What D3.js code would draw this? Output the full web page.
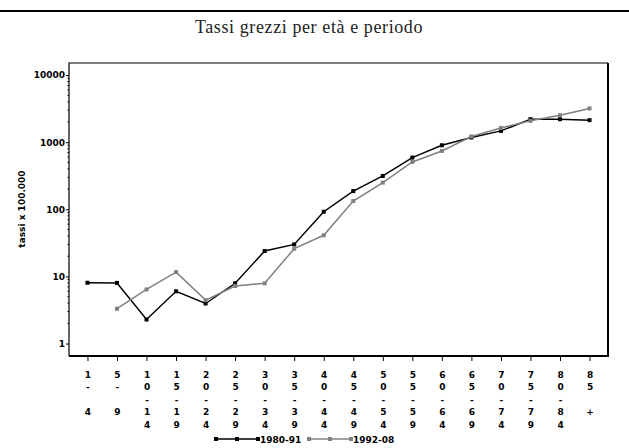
<!DOCTYPE html>
<html>
<head>
<meta charset="utf-8">
<script src="https://cdn.jsdelivr.net/npm/d3@7"></script>
<style>
  body { margin: 0; background: #fff; }
</style>
</head>
<body>
<div id="chart"></div>
<script>
// Data
var ageGroups = ["1- 4", "5- 9", "10-14", "15-19", "20-24", "25-29", "30-34", "35-39", "40-44",
                 "45-49", "50-54", "55-59", "60-64", "65-69", "70-74", "75-79", "80-84", "85 +"];
var rates8091 = [8.05, 8.0, 2.28, 6.0, 3.95, 7.9, 23.9, 30, 92, 187, 314, 590, 900, 1175, 1475, 2200, 2200, 2130];
var rates9208 = [null, 3.3, 6.4, 11.6, 4.43, 7.2, 7.9, 25.9, 41, 133, 250, 508, 741, 1216, 1630, 2080, 2520, 3185];
var seriesNames = ["1980-91", "1992-08"];
var yTicks = [1, 10, 100, 1000, 10000];

var attrs = {
    svgWidth: 629,
    svgHeight: 448,
    frameLeft: 69,
    frameRight: 608,
    frameTop: 63,
    frameBottom: 356,
    tickFont: '"DejaVu Sans", sans-serif',
    titleFont: '"Liberation Serif", serif',
    colors: ['#000000', '#808080']
};

var svg = d3.select('#chart').append('svg')
    .attr('width', attrs.svgWidth)
    .attr('height', attrs.svgHeight);

// top rule + title
svg.append('line')
    .attr('x1', 0).attr('x2', attrs.svgWidth)
    .attr('y1', 11).attr('y2', 11)
    .attr('stroke', '#000').attr('stroke-width', 2);

svg.append('text')
    .attr('x', 309).attr('y', 33)
    .attr('text-anchor', 'middle')
    .attr('font-family', attrs.titleFont)
    .attr('font-size', 18)
    .attr('letter-spacing', 0.6)
    .attr('fill', '#222')
    .text('Tassi grezzi per età e periodo');

/*################ SCALES ################*/
var x = d3.scalePoint()
    .domain(ageGroups)
    .range([attrs.frameLeft, attrs.frameRight])
    .padding(0.625);

// decades land at 343.5 (1) ... 75 (10000)
var y = d3.scaleLog()
    .domain([0.652, 15140])
    .range([attrs.frameBottom, attrs.frameTop]);

/*################ FRAME + AXES ################*/
svg.append('path')
    .attr('d', 'M' + attrs.frameLeft + ',' + attrs.frameBottom + 'V' + attrs.frameTop + 'H' + attrs.frameRight)
    .attr('fill', 'none').attr('stroke', '#000').attr('stroke-width', 1.2);
svg.append('path')
    .attr('d', 'M' + attrs.frameLeft + ',' + attrs.frameBottom + 'H' + attrs.frameRight + 'V' + attrs.frameTop)
    .attr('fill', 'none').attr('stroke', '#000').attr('stroke-width', 2);

var yAxis = svg.append('g')
    .attr('transform', 'translate(' + attrs.frameLeft + ',0)')
    .call(d3.axisLeft(y).tickValues(yTicks).tickSize(3).tickPadding(1).tickFormat(d3.format('d')));
yAxis.select('.domain').remove();
yAxis.selectAll('text')
    .attr('font-family', attrs.tickFont)
    .attr('font-weight', 'bold')
    .attr('font-size', 9);

// minor ticks 2..9 for each decade
var minor = [];
for (var e = 0; e < 4; e++) {
    for (var m = 2; m <= 9; m++) minor.push(m * Math.pow(10, e));
}
svg.append('g').selectAll('line').data(minor).enter().append('line')
    .attr('x1', attrs.frameLeft - 1.5).attr('x2', attrs.frameLeft)
    .attr('y1', d => y(d)).attr('y2', d => y(d))
    .attr('stroke', '#000');

svg.append('text')
    .attr('transform', 'translate(25,209) rotate(-90)')
    .attr('text-anchor', 'middle')
    .attr('font-family', attrs.tickFont)
    .attr('font-weight', 'bold')
    .attr('font-size', 9)
    .text('tassi x 100.000');

var xAxis = svg.append('g')
    .attr('transform', 'translate(0,' + attrs.frameBottom + ')')
    .call(d3.axisBottom(x).tickSize(5).tickFormat(''));
xAxis.select('.domain').remove();

// vertical labels: one character per row
xAxis.selectAll('.tick').append('text')
    .attr('font-family', attrs.tickFont)
    .attr('font-weight', 'bold')
    .attr('font-size', 9)
    .attr('fill', '#000')
    .attr('text-anchor', 'middle')
    .selectAll('tspan')
    .data(d => d.split(''))
    .enter().append('tspan')
    .attr('x', 0)
    .attr('y', (c, i) => 21.5 + i * 12.6)
    .text(c => c === ' ' ? '' : c);

/*################ LINES ################*/
var line = d3.line()
    .defined(d => d.v != null)
    .x(d => x(d.k))
    .y(d => y(d.v));

[rates8091, rates9208].forEach(function (vals, s) {
    var pts = ageGroups.map((k, i) => ({ k: k, v: vals[i] }));
    var g = svg.append('g');
    g.append('path')
        .datum(pts)
        .attr('d', line)
        .attr('fill', 'none')
        .attr('stroke', attrs.colors[s])
        .attr('stroke-width', 1.5);
    g.selectAll('rect').data(pts.filter(d => d.v != null)).enter().append('rect')
        .attr('x', d => x(d.k) - 2).attr('y', d => y(d.v) - 2)
        .attr('width', 4).attr('height', 4)
        .attr('fill', attrs.colors[s]);
});

/*################ LEGEND ################*/
var legendX = [215, 308];
seriesNames.forEach(function (name, s) {
    var lg = svg.append('g').attr('transform', 'translate(' + legendX[s] + ',439)');
    lg.append('line')
        .attr('x1', 0).attr('x2', 44).attr('y1', 0).attr('y2', 0)
        .attr('stroke', attrs.colors[s]).attr('stroke-width', 1.5);
    lg.selectAll('rect').data([1, 22, 43]).enter().append('rect')
        .attr('x', d => d - 2).attr('y', -2).attr('width', 4).attr('height', 4)
        .attr('fill', attrs.colors[s]);
    lg.append('text')
        .attr('x', 45).attr('y', 3.5)
        .attr('font-family', attrs.tickFont)
        .attr('font-weight', 'bold')
        .attr('font-size', 9)
        .text(name);
});
</script>
</body>
</html>
